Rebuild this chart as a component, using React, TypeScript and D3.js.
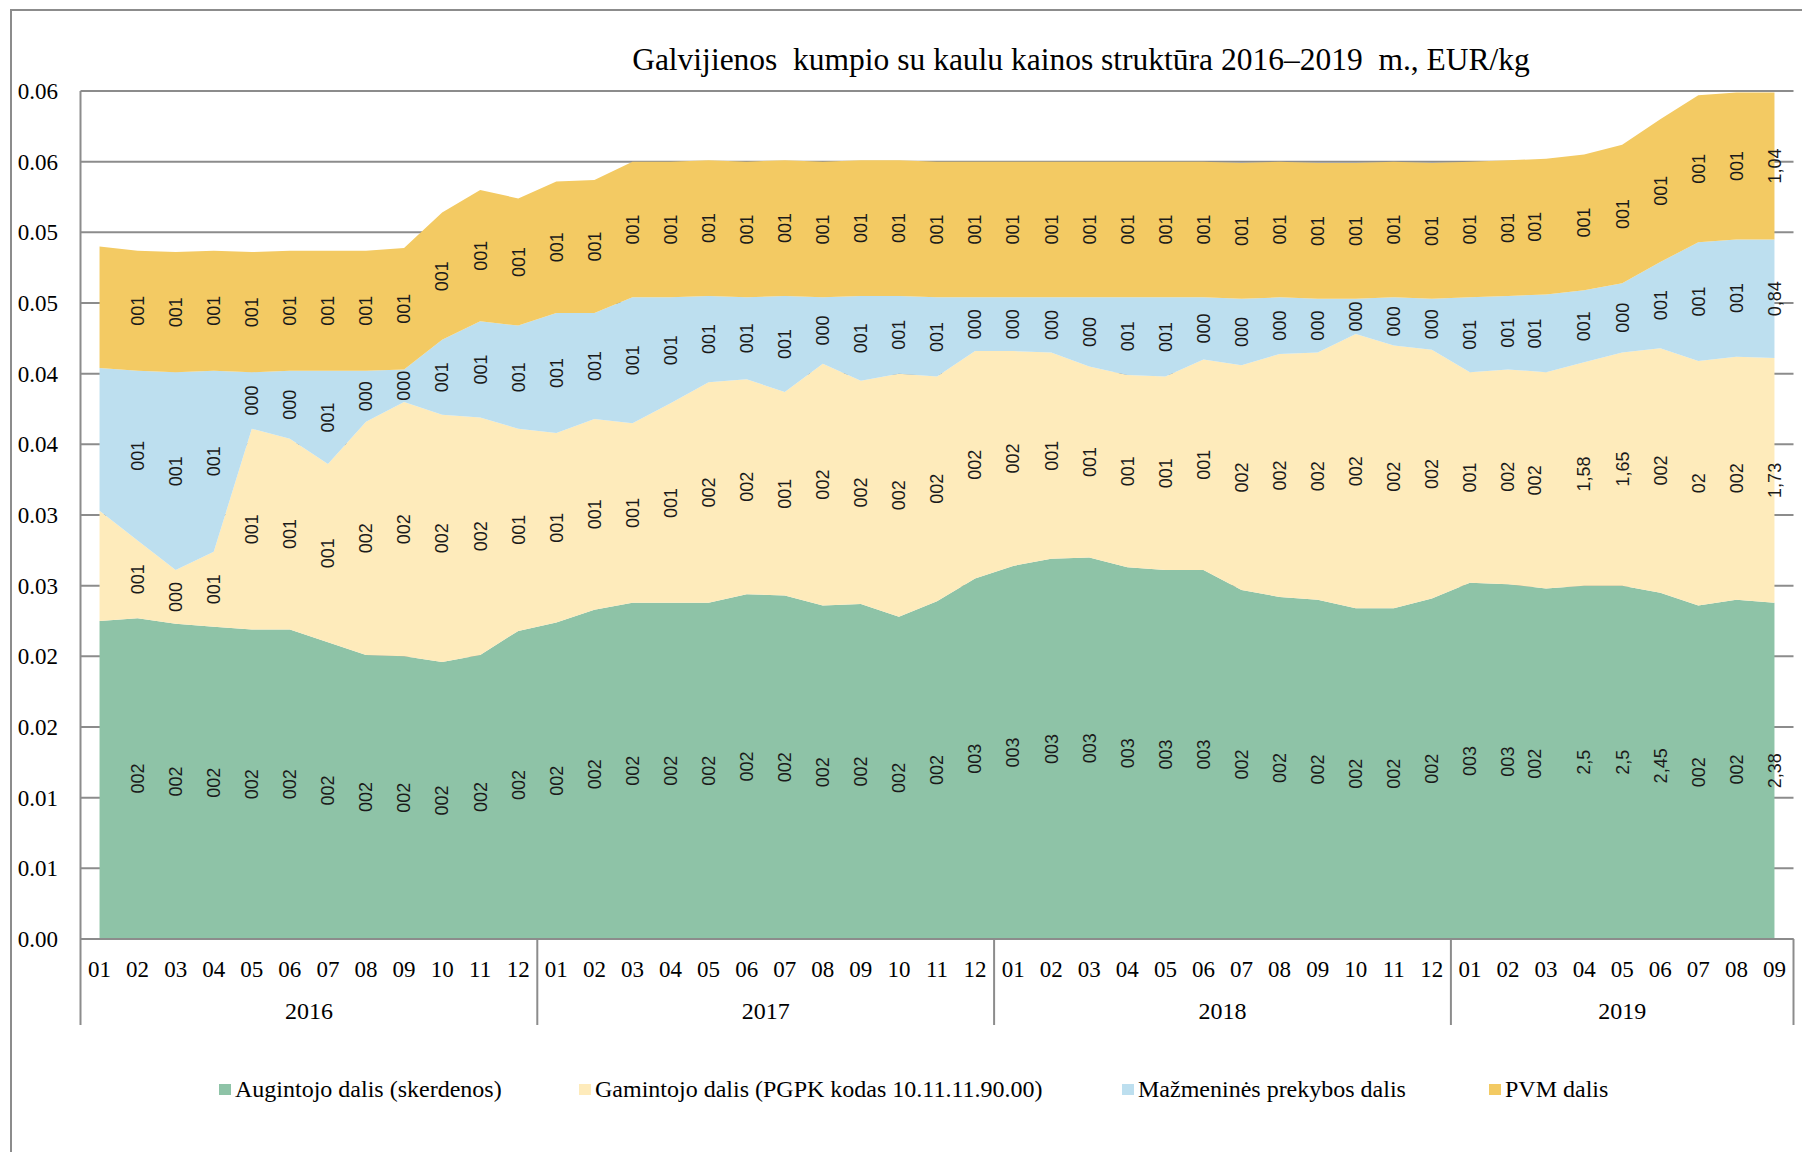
import React, { useEffect, useRef } from "react";
import * as d3 from "d3";

const periods = [
  "2016-01", "2016-02", "2016-03", "2016-04", "2016-05", "2016-06", "2016-07", "2016-08", "2016-09", "2016-10", "2016-11", "2016-12",
  "2017-01", "2017-02", "2017-03", "2017-04", "2017-05", "2017-06", "2017-07", "2017-08", "2017-09", "2017-10", "2017-11", "2017-12",
  "2018-01", "2018-02", "2018-03", "2018-04", "2018-05", "2018-06", "2018-07", "2018-08", "2018-09", "2018-10", "2018-11", "2018-12",
  "2019-01", "2019-02", "2019-03", "2019-04", "2019-05", "2019-06", "2019-07", "2019-08", "2019-09",
];
const years = ["2016", "2017", "2018", "2019"];

// EUR/kg
const augintojo = [
  2.25, 2.27, 2.23, 2.21, 2.19, 2.19, 2.10, 2.01, 2.00, 1.96, 2.01, 2.18,
  2.24, 2.33, 2.38, 2.38, 2.38, 2.44, 2.43, 2.36, 2.37, 2.28, 2.39, 2.55,
  2.64, 2.69, 2.70, 2.63, 2.61, 2.61, 2.47, 2.42, 2.40, 2.34, 2.34, 2.41,
  2.52, 2.51, 2.48, 2.50, 2.50, 2.45, 2.36, 2.40, 2.38,
];
const gamintojo = [
  0.78, 0.55, 0.38, 0.53, 1.42, 1.35, 1.26, 1.65, 1.80, 1.75, 1.68, 1.43,
  1.34, 1.35, 1.27, 1.41, 1.56, 1.52, 1.44, 1.71, 1.58, 1.72, 1.59, 1.61,
  1.52, 1.46, 1.35, 1.36, 1.37, 1.49, 1.59, 1.72, 1.75, 1.94, 1.86, 1.76,
  1.49, 1.52, 1.53, 1.58, 1.65, 1.73, 1.73, 1.72, 1.73,
];
const mazmenine = [
  1.01, 1.20, 1.40, 1.28, 0.40, 0.48, 0.66, 0.36, 0.23, 0.53, 0.68, 0.73,
  0.85, 0.75, 0.89, 0.75, 0.61, 0.58, 0.68, 0.47, 0.60, 0.55, 0.56, 0.38,
  0.38, 0.39, 0.49, 0.55, 0.56, 0.44, 0.47, 0.40, 0.38, 0.25, 0.34, 0.36,
  0.53, 0.52, 0.55, 0.51, 0.49, 0.61, 0.84, 0.83, 0.84,
];
const pvm = [
  0.86, 0.85, 0.85, 0.85, 0.85, 0.85, 0.85, 0.85, 0.86, 0.90, 0.93, 0.90,
  0.93, 0.94, 0.96, 0.96, 0.96, 0.96, 0.96, 0.96, 0.96, 0.96, 0.96, 0.96,
  0.96, 0.96, 0.96, 0.96, 0.96, 0.96, 0.96, 0.96, 0.96, 0.96, 0.96, 0.96,
  0.96, 0.96, 0.96, 0.96, 0.98, 1.01, 1.04, 1.04, 1.04,
];

// data labels as printed on the chart (none on the first month)
const augintojoLabels = [
  null, "002", "002", "002", "002", "002", "002", "002", "002", "002", "002", "002",
  "002", "002", "002", "002", "002", "002", "002", "002", "002", "002", "002", "003",
  "003", "003", "003", "003", "003", "003", "002", "002", "002", "002", "002", "002",
  "003", "003", "002", "2,5", "2,5", "2,45", "002", "002", "2,38",
];
const gamintojoLabels = [
  null, "001", "000", "001", "001", "001", "001", "002", "002", "002", "002", "001",
  "001", "001", "001", "001", "002", "002", "001", "002", "002", "002", "002", "002",
  "002", "001", "001", "001", "001", "001", "002", "002", "002", "002", "002", "002",
  "001", "002", "002", "1,58", "1,65", "002", "02", "002", "1,73",
];
const mazmenineLabels = [
  null, "001", "001", "001", "000", "000", "001", "000", "000", "001", "001", "001",
  "001", "001", "001", "001", "001", "001", "001", "000", "001", "001", "001", "000",
  "000", "000", "000", "001", "001", "000", "000", "000", "000", "000", "000", "000",
  "001", "001", "001", "001", "000", "001", "001", "001", "0,84",
];
const pvmLabels = [
  null, "001", "001", "001", "001", "001", "001", "001", "001", "001", "001", "001",
  "001", "001", "001", "001", "001", "001", "001", "001", "001", "001", "001", "001",
  "001", "001", "001", "001", "001", "001", "001", "001", "001", "001", "001", "001",
  "001", "001", "001", "001", "001", "001", "001", "001", "1,04",
];

const seriesNames = [
  "Augintojo dalis (skerdenos)",
  "Gamintojo dalis (PGPK kodas 10.11.11.90.00)",
  "Mažmeninės prekybos dalis",
  "PVM dalis",
];
const seriesColors = ["#8EC3A7", "#FEEBBB", "#BDDFEF", "#F3CA63"];

const yTicks = [0, 0.5, 1, 1.5, 2, 2.5, 3, 3.5, 4, 4.5, 5, 5.5, 6];
const yTickLabels = ["0.00", "0.01", "0.01", "0.02", "0.02", "0.03", "0.03", "0.04", "0.04", "0.05", "0.05", "0.06", "0.06"];

const title = "Galvijienos  kumpio su kaulu kainos struktūra 2016–2019  m., EUR/kg";

const W = 1802;
const H = 1152;

const App = () => {
  const ref = useRef(null);

  useEffect(() => {
    const svg = d3.select(ref.current);
    svg.selectAll("*").remove();

    const serif = "'Liberation Serif', 'Times New Roman', serif";
    const sans = "'Liberation Sans', Arial, sans-serif";
    const gridColor = "#8c8c8c";

    const left = 80.5, right = 1793.5, top = 91, bottom = 939;

    const x = d3.scaleBand().domain(periods).range([left, right]).padding(0);
    const cx = (p) => x(p) + x.bandwidth() / 2;
    const y = d3.scaleLinear().domain([0, 6]).range([bottom, top]);

    const keys = ["a", "g", "m", "p"];
    const labels = [augintojoLabels, gamintojoLabels, mazmenineLabels, pvmLabels];
    const rows = periods.map((p, i) => ({
      period: p,
      a: augintojo[i],
      g: gamintojo[i],
      m: mazmenine[i],
      p: pvm[i],
    }));
    const stacked = d3.stack().keys(keys)(rows);

    // frame
    svg.append("rect")
      .attr("x", 11).attr("y", 10)
      .attr("width", W).attr("height", H)
      .attr("fill", "none")
      .attr("stroke", gridColor)
      .attr("stroke-width", 2);

    // title
    svg.append("text")
      .attr("x", 1081).attr("y", 70)
      .attr("text-anchor", "middle")
      .attr("font-family", serif)
      .attr("font-size", 31.5)
      .style("white-space", "pre")
      .text(title);

    // gridlines
    svg.append("g").selectAll("line")
      .data(yTicks)
      .enter().append("line")
      .attr("x1", left).attr("x2", right)
      .attr("y1", d => y(d)).attr("y2", d => y(d))
      .attr("stroke", gridColor)
      .attr("stroke-width", 2);

    // areas
    const area = d3.area()
      .x(d => cx(d.data.period))
      .y0(d => y(d[0]))
      .y1(d => y(d[1]));

    svg.append("g").selectAll("path")
      .data(stacked)
      .enter().append("path")
      .attr("fill", (d, i) => seriesColors[i])
      .attr("d", area);

    // axes lines
    svg.append("line")
      .attr("x1", left).attr("x2", left)
      .attr("y1", top).attr("y2", 1025)
      .attr("stroke", gridColor).attr("stroke-width", 2);
    svg.append("line")
      .attr("x1", left).attr("x2", right)
      .attr("y1", bottom).attr("y2", bottom)
      .attr("stroke", gridColor).attr("stroke-width", 2);

    // y tick labels
    svg.append("g").selectAll("text")
      .data(yTicks)
      .enter().append("text")
      .attr("x", 58)
      .attr("y", d => y(d))
      .attr("dy", "0.35em")
      .attr("text-anchor", "end")
      .attr("font-family", serif)
      .attr("font-size", 23)
      .text((d, i) => yTickLabels[i]);

    // month labels
    svg.append("g").selectAll("text")
      .data(periods)
      .enter().append("text")
      .attr("x", d => cx(d))
      .attr("y", 977)
      .attr("text-anchor", "middle")
      .attr("font-family", serif)
      .attr("font-size", 23)
      .text(d => d.slice(5));

    // year separators and labels
    years.forEach(yr => {
      const inYear = periods.filter(p => p.startsWith(yr));
      const x0 = x(inYear[0]);
      const x1 = x(inYear[inYear.length - 1]) + x.bandwidth();
      svg.append("line")
        .attr("x1", x1).attr("x2", x1)
        .attr("y1", bottom).attr("y2", 1025)
        .attr("stroke", gridColor).attr("stroke-width", 2);
      svg.append("text")
        .attr("x", (x0 + x1) / 2)
        .attr("y", 1019)
        .attr("text-anchor", "middle")
        .attr("font-family", serif)
        .attr("font-size", 24)
        .text(yr);
    });

    // data labels; the 2019-03 column sits a little to the left in the original
    const nudge = { "2019-03": -11 };
    stacked.forEach((s, si) => {
      svg.append("g").selectAll("text")
        .data(s.filter((d, i) => labels[si][i] !== null))
        .enter().append("text")
        .attr("transform", d => `translate(${cx(d.data.period) + (nudge[d.data.period] || 0)},${y((d[0] + d[1]) / 2)}) rotate(-90)`)
        .attr("text-anchor", "middle")
        .attr("dy", "0.35em")
        .attr("font-family", sans)
        .attr("font-size", 18)
        .attr("fill", "#1a1a1a")
        .text(d => labels[si][periods.indexOf(d.data.period)]);
    });

    // legend
    const legendX = [219, 579, 1122, 1489];
    const legend = svg.append("g").selectAll("g")
      .data(seriesNames)
      .enter().append("g")
      .attr("transform", (d, i) => `translate(${legendX[i]},1084)`);
    legend.append("rect")
      .attr("width", 12).attr("height", 11)
      .attr("fill", (d, i) => seriesColors[i]);
    legend.append("text")
      .attr("x", 16).attr("y", 13)
      .attr("font-family", serif)
      .attr("font-size", 24)
      .text(d => d);
  }, []);

  return (
    <svg
      ref={ref}
      width={W}
      height={H}
      style={{ position: "absolute", left: 0, top: 0, background: "#fff" }}
    />
  );
};

export default App;
